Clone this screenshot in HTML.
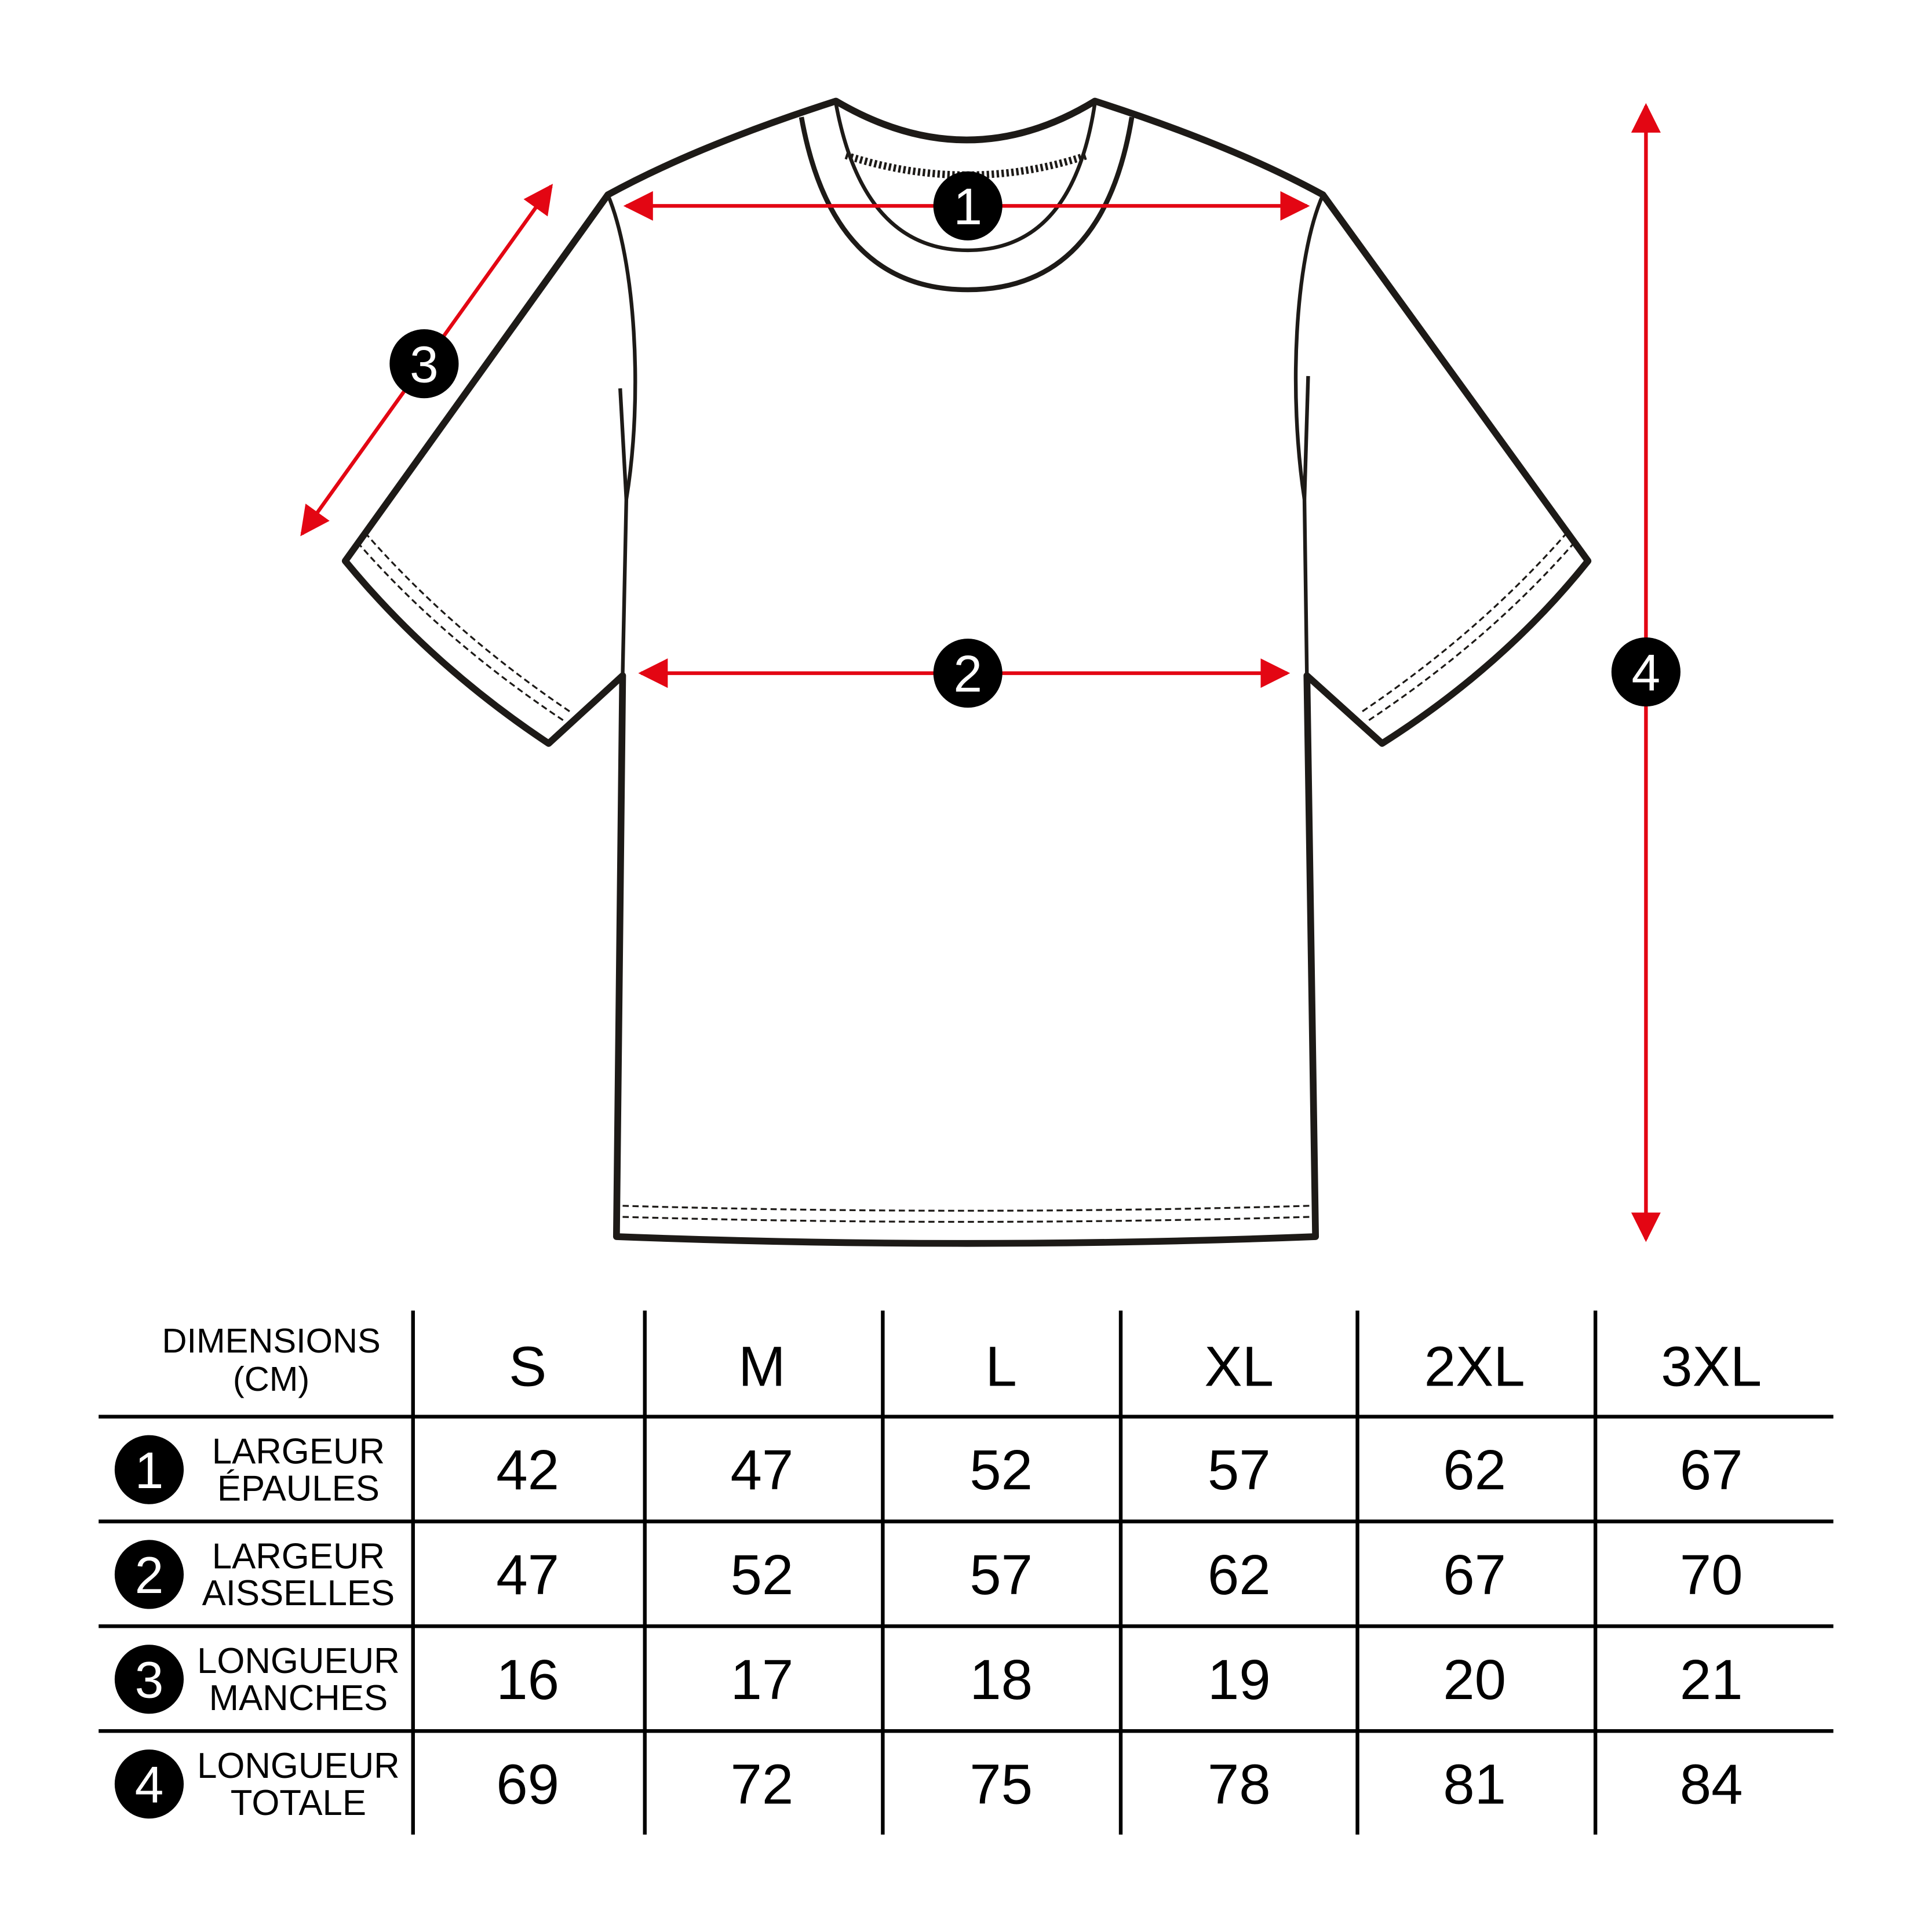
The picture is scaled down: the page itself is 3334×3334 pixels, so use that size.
<!DOCTYPE html>
<html><head><meta charset="utf-8"><style>html,body{margin:0;padding:0;background:#fff}svg{display:block}</style></head>
<body>
<svg width="3334" height="3334" viewBox="0 0 1567 1567" xmlns="http://www.w3.org/2000/svg" font-family="'Liberation Sans', sans-serif">
<defs>
<marker id="ah" viewBox="0 0 10 10" refX="9" refY="5" markerWidth="8" markerHeight="8" orient="auto-start-reverse" markerUnits="strokeWidth"><path d="M0,0 L10,5 L0,10 z" fill="#e30613"/></marker>
</defs>
<rect width="1567" height="1567" fill="#fff"/>
<g fill="none" stroke="#1d1a17" stroke-linejoin="round">
<path d="M678,82 Q785,145 888,82 Q1000,118 1073,158 L1288,455 Q1220,540 1121,603 L1060,548 L1067,1003 Q785,1014 500,1003 L505,548 L445,603 Q350,540 280,455 L493,158 Q566,118 678,82 Z" stroke-width="5.5"/>
<path d="M650,95 Q675,235 785,235 Q895,235 918,95" stroke-width="4"/>
<path d="M678,84 Q700,203 785,203 Q870,203 888,84" stroke-width="3"/>
<path d="M686,126 Q785,158 882,126" stroke-width="6" stroke-dasharray="2 2"/>
<path d="M493,158 C515,210 522,320 508,405 L505,548" stroke-width="3"/>
<path d="M503,315 L508,405" stroke-width="3"/>
<path d="M1073,158 C1050,210 1045,320 1058,405 L1060,548" stroke-width="3"/>
<path d="M1061,305 L1058,405" stroke-width="3"/>
<g stroke-width="1.5" stroke-dasharray="5 3">
<path d="M290,440 Q360,520 458,585"/><path d="M296,432 Q366,512 462,577"/>
<path d="M1277,440 Q1207,520 1109,585"/><path d="M1271,432 Q1201,512 1105,577"/>
<path d="M505,978 Q785,986 1062,978"/><path d="M505,987 Q785,995 1062,987"/>
</g>
</g>
<g stroke="#e30613" stroke-width="3" marker-start="url(#ah)" marker-end="url(#ah)">
<line x1="508" y1="167" x2="1060" y2="167"/>
<line x1="520" y1="546" x2="1044" y2="546"/>
<line x1="447" y1="151" x2="245" y2="433"/>
<line x1="1335" y1="86" x2="1335" y2="1005"/>
</g>
<g font-size="42" fill="#fff" text-anchor="middle">
<circle cx="785" cy="167" r="28" fill="#000"/><text x="785" y="182">1</text>
<circle cx="785" cy="546" r="28" fill="#000"/><text x="785" y="561">2</text>
<circle cx="344" cy="295" r="28" fill="#000"/><text x="344" y="310">3</text>
<circle cx="1335" cy="545" r="28" fill="#000"/><text x="1335" y="560">4</text>
</g>
<g stroke="#000" stroke-width="3">
<line x1="335" y1="1063" x2="335" y2="1488"/><line x1="523" y1="1063" x2="523" y2="1488"/>
<line x1="716" y1="1063" x2="716" y2="1488"/><line x1="909" y1="1063" x2="909" y2="1488"/>
<line x1="1101" y1="1063" x2="1101" y2="1488"/><line x1="1294" y1="1063" x2="1294" y2="1488"/>
<line x1="80" y1="1149" x2="1487" y2="1149"/><line x1="80" y1="1234" x2="1487" y2="1234"/>
<line x1="80" y1="1319" x2="1487" y2="1319"/><line x1="80" y1="1404" x2="1487" y2="1404"/>
</g>
<g text-anchor="middle" fill="#000">
<text x="220" y="1097" font-size="28">DIMENSIONS</text><text x="220" y="1128" font-size="28">(CM)</text>
<g font-size="46">
<text x="428" y="1124">S</text><text x="618" y="1124">M</text><text x="812" y="1124">L</text><text x="1005" y="1124">XL</text><text x="1196" y="1124">2XL</text><text x="1388" y="1124">3XL</text>
<text x="428" y="1208">42</text><text x="618" y="1208">47</text><text x="812" y="1208">52</text><text x="1005" y="1208">57</text><text x="1196" y="1208">62</text><text x="1388" y="1208">67</text>
<text x="428" y="1293">47</text><text x="618" y="1293">52</text><text x="812" y="1293">57</text><text x="1005" y="1293">62</text><text x="1196" y="1293">67</text><text x="1388" y="1293">70</text>
<text x="428" y="1378">16</text><text x="618" y="1378">17</text><text x="812" y="1378">18</text><text x="1005" y="1378">19</text><text x="1196" y="1378">20</text><text x="1388" y="1378">21</text>
<text x="428" y="1463">69</text><text x="618" y="1463">72</text><text x="812" y="1463">75</text><text x="1005" y="1463">78</text><text x="1196" y="1463">81</text><text x="1388" y="1463">84</text>
</g>
<g font-size="29">
<text x="242" y="1187">LARGEUR</text><text x="242" y="1217">ÉPAULES</text>
<text x="242" y="1272">LARGEUR</text><text x="242" y="1302">AISSELLES</text>
<text x="242" y="1357">LONGUEUR</text><text x="242" y="1387">MANCHES</text>
<text x="242" y="1442">LONGUEUR</text><text x="242" y="1472">TOTALE</text>
</g>
<g fill="#000"><circle cx="121" cy="1192" r="28"/><circle cx="121" cy="1277" r="28"/><circle cx="121" cy="1362" r="28"/><circle cx="121" cy="1447" r="28"/></g>
<g font-size="42" fill="#fff">
<text x="121" y="1207">1</text><text x="121" y="1292">2</text><text x="121" y="1377">3</text><text x="121" y="1462">4</text>
</g>
</g>
</svg>
</body></html>
